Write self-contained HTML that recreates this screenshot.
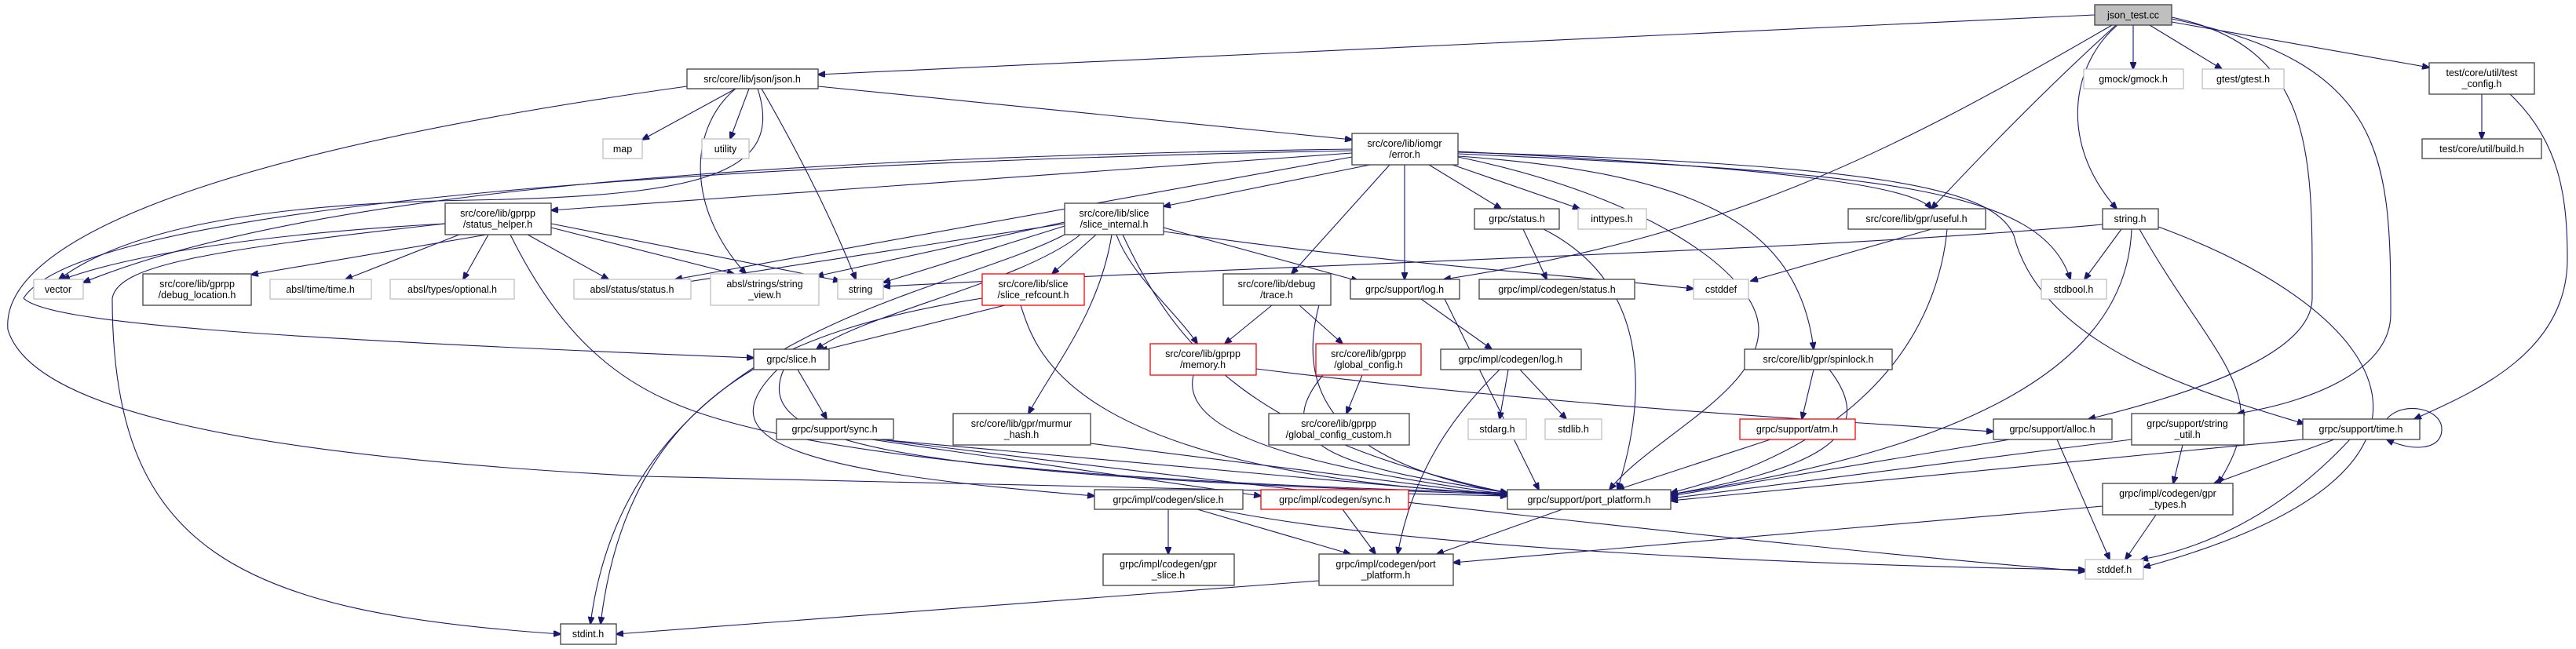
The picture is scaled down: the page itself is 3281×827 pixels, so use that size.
<!DOCTYPE html>
<html><head><meta charset="utf-8"><style>
html,body{margin:0;padding:0;background:#fff;}
svg{display:block;}
text{font-family:"Liberation Sans",sans-serif;font-size:12.5px;fill:#000;text-anchor:middle;}
.e{fill:none;stroke:#191970;stroke-width:1.1;marker-end:url(#a);}
.b{fill:#fff;stroke:#404040;stroke-width:1.3;}
.g{fill:#fff;stroke:#bfbfbf;stroke-width:1.3;}
.r{fill:#fff;stroke:#ff0000;stroke-width:1.3;}
</style></head><body>
<svg width="3281" height="827" viewBox="0 0 3281 827" xmlns="http://www.w3.org/2000/svg">
<defs><marker id="a" markerWidth="10" markerHeight="8" refX="9" refY="4" orient="auto" markerUnits="userSpaceOnUse"><path d="M0,0 L10,4 L0,8 z" fill="#191970" stroke="#191970"/></marker></defs>
<g>
<path class="e" d="M2668,19 L1042,95"/>
<path class="e" d="M2717,32 L2717,88"/>
<path class="e" d="M2738,32 L2830,88"/>
<path class="e" d="M2766,28 L3094,86"/>
<path class="e" d="M2697,32 C2640,80 2620,180 2696,266"/>
<path class="e" d="M2695,32 C2620,100 2540,180 2460,266"/>
<path class="e" d="M2690,32 C2400,200 2200,300 1839,356"/>
<path class="e" d="M2766,22 C2950,60 2945,200 2945,380 C2945,450 2800,500 2660,534"/>
<path class="e" d="M2766,24 C3040,80 3045,200 3045,400 C3045,470 2950,510 2850,527"/>
<path class="e" d="M3161,120 L3161,177"/>
<path class="e" d="M3197,120 C3260,180 3270,250 3270,330 C3270,450 3150,500 3075,534"/>
<path class="e" d="M937,113 L818,178"/>
<path class="e" d="M954,113 L930,177"/>
<path class="e" d="M937,113 C880,160 870,260 950,349"/>
<path class="e" d="M970,113 C1020,200 1060,280 1090,356"/>
<path class="e" d="M965,113 C1000,220 900,250 600,255 C300,260 150,300 75,356"/>
<path class="e" d="M1042,110 L1722,178"/>
<path class="e" d="M875,110 C300,190 0,300 10,420 C40,520 300,580 820,607 L1920,632"/>
<path class="e" d="M1722,195 L702,268"/>
<path class="e" d="M1722,190 C1000,200 400,240 106,360"/>
<path class="e" d="M1722,200 L860,356"/>
<path class="e" d="M1745,210 L1482,263"/>
<path class="e" d="M1722,192 C800,210 100,270 30,380 C60,410 300,430 960,456"/>
<path class="e" d="M1770,210 L1645,349"/>
<path class="e" d="M1789,210 L1789,356"/>
<path class="e" d="M1820,210 L1912,266"/>
<path class="e" d="M1850,210 L2012,266"/>
<path class="e" d="M1857,196 C2400,220 2600,240 2637,356"/>
<path class="e" d="M1857,194 C2400,210 2540,240 2565,300 C2600,440 2800,500 2935,540"/>
<path class="e" d="M1857,200 C2100,250 2240,350 2240,420 C2240,500 2100,560 2050,624"/>
<path class="e" d="M1857,199 C2150,220 2290,280 2310,445"/>
<path class="e" d="M1857,193 C2300,215 2440,240 2460,266"/>
<path class="e" d="M567,285 C300,300 150,330 80,356"/>
<path class="e" d="M620,299 L320,350"/>
<path class="e" d="M585,299 L440,356"/>
<path class="e" d="M622,299 L590,356"/>
<path class="e" d="M672,299 L775,356"/>
<path class="e" d="M702,290 L935,349"/>
<path class="e" d="M702,285 L1070,358"/>
<path class="e" d="M567,285 C250,320 150,340 143,380 C143,700 300,780 714,808"/>
<path class="e" d="M650,299 C700,400 760,470 850,510 C1000,580 1400,615 1920,628"/>
<path class="e" d="M1356,288 L1125,360"/>
<path class="e" d="M1356,285 L870,360"/>
<path class="e" d="M1356,283 L1040,352"/>
<path class="e" d="M1356,299 C1200,380 800,420 752,795"/>
<path class="e" d="M1376,299 C1300,360 1100,400 1040,445"/>
<path class="e" d="M1396,299 L1340,349"/>
<path class="e" d="M1416,299 C1400,400 1340,470 1310,527"/>
<path class="e" d="M1422,299 C1440,350 1500,400 1525,438"/>
<path class="e" d="M1430,299 C1500,450 1600,560 1920,628"/>
<path class="e" d="M1482,290 L1730,358"/>
<path class="e" d="M1482,295 C1800,340 2000,350 2157,368"/>
<path class="e" d="M1280,389 L1045,447"/>
<path class="e" d="M1251,380 C1000,420 800,500 765,795"/>
<path class="e" d="M1300,389 C1320,450 1360,600 1920,630"/>
<path class="e" d="M1016,471 L1053,534"/>
<path class="e" d="M990,471 C900,560 1000,600 1394,632"/>
<path class="e" d="M998,471 C960,560 1100,605 1920,630"/>
<path class="e" d="M1120,560 L1920,632"/>
<path class="e" d="M1110,560 L1606,632"/>
<path class="e" d="M1120,560 C1600,620 2300,700 2656,728"/>
<path class="e" d="M1389,565 L1920,632"/>
<path class="e" d="M1520,478 C1500,560 1700,600 1920,630"/>
<path class="e" d="M1600,470 C2000,520 2400,540 2539,550"/>
<path class="e" d="M1620,389 L1560,438"/>
<path class="e" d="M1655,389 L1710,438"/>
<path class="e" d="M1680,389 C1650,500 1700,590 1920,628"/>
<path class="e" d="M1735,478 L1715,527"/>
<path class="e" d="M1685,478 C1600,580 1750,600 1920,628"/>
<path class="e" d="M1810,381 L1900,445"/>
<path class="e" d="M1840,381 L1960,624"/>
<path class="e" d="M1921,471 L1910,534"/>
<path class="e" d="M1936,471 L1995,534"/>
<path class="e" d="M1910,471 C1850,530 1800,600 1780,706"/>
<path class="e" d="M1940,292 L1970,356"/>
<path class="e" d="M1966,292 C2100,360 2100,500 2060,624"/>
<path class="e" d="M2460,292 L2230,358"/>
<path class="e" d="M2480,292 C2470,400 2400,560 2128,628"/>
<path class="e" d="M2310,471 L2295,534"/>
<path class="e" d="M2330,471 C2400,560 2300,600 2128,630"/>
<path class="e" d="M2255,560 L2060,624"/>
<path class="e" d="M2560,560 L2128,632"/>
<path class="e" d="M2620,560 L2687,713"/>
<path class="e" d="M2715,560 L2128,635"/>
<path class="e" d="M2780,567 L2768,616"/>
<path class="e" d="M2933,560 L2128,638"/>
<path class="e" d="M2973,560 L2820,616"/>
<path class="e" d="M2993,560 C2900,660 2800,700 2727,713"/>
<path class="e" d="M3040,534 C3060,510 3110,520 3110,547 C3110,575 3070,575 3040,560"/>
<path class="e" d="M2702,292 L2655,356"/>
<path class="e" d="M2715,292 C2710,420 2600,560 2128,630"/>
<path class="e" d="M2725,292 C2820,460 2900,500 2825,616"/>
<path class="e" d="M2749,289 C3050,400 3180,600 2730,723"/>
<path class="e" d="M2678,286 C2300,320 1800,330 1125,365"/>
<path class="e" d="M2678,645 L1851,717"/>
<path class="e" d="M2746,656 L2707,713"/>
<path class="e" d="M1990,649 L1830,706"/>
<path class="e" d="M1488,649 L1488,706"/>
<path class="e" d="M1525,649 L1720,706"/>
<path class="e" d="M1550,649 C1800,700 2300,720 2656,726"/>
<path class="e" d="M1710,649 L1752,706"/>
<path class="e" d="M1680,740 L785,808"/>
</g>
<g>
<rect x="2668" y="6" width="98" height="26" fill="#bfbfbf" stroke="#404040" stroke-width="1.3"/><text x="2717" y="23.5">json_test.cc</text>
<rect class="b" x="875" y="88" width="167" height="25"/><text x="958" y="105">src/core/lib/json/json.h</text>
<rect class="g" x="2654" y="88" width="127" height="25"/><text x="2717" y="105">gmock/gmock.h</text>
<rect class="g" x="2805" y="88" width="104" height="25"/><text x="2857" y="105">gtest/gtest.h</text>
<rect class="b" x="3094" y="80" width="134" height="40"/><text x="3161" y="97">test/core/util/test</text><text x="3161" y="111">_config.h</text>
<rect class="b" x="3085" y="177" width="152" height="25"/><text x="3161" y="194">test/core/util/build.h</text>
<rect class="g" x="768" y="177" width="50" height="25"/><text x="793" y="194">map</text>
<rect class="g" x="894" y="177" width="60" height="25"/><text x="924" y="194">utility</text>
<rect class="b" x="1722" y="170" width="135" height="40"/><text x="1789" y="187">src/core/lib/iomgr</text><text x="1789" y="201">/error.h</text>
<rect class="b" x="567" y="259" width="135" height="40"/><text x="634" y="276">src/core/lib/gprpp</text><text x="634" y="290">/status_helper.h</text>
<rect class="b" x="1356" y="259" width="126" height="40"/><text x="1419" y="276">src/core/lib/slice</text><text x="1419" y="290">/slice_internal.h</text>
<rect class="b" x="1878" y="266" width="108" height="26"/><text x="1932" y="283">grpc/status.h</text>
<rect class="g" x="2010" y="266" width="87" height="26"/><text x="2053" y="283">inttypes.h</text>
<rect class="b" x="2354" y="266" width="175" height="26"/><text x="2441" y="283">src/core/lib/gpr/useful.h</text>
<rect class="b" x="2678" y="266" width="71" height="26"/><text x="2713" y="283">string.h</text>
<rect class="g" x="43" y="356" width="63" height="25"/><text x="74" y="373">vector</text>
<rect class="b" x="182" y="349" width="138" height="40"/><text x="251" y="366">src/core/lib/gprpp</text><text x="251" y="380">/debug_location.h</text>
<rect class="g" x="344" y="356" width="129" height="25"/><text x="408" y="373">absl/time/time.h</text>
<rect class="g" x="497" y="356" width="158" height="25"/><text x="576" y="373">absl/types/optional.h</text>
<rect class="g" x="731" y="356" width="149" height="25"/><text x="805" y="373">absl/status/status.h</text>
<rect class="g" x="905" y="349" width="138" height="40"/><text x="974" y="366">absl/strings/string</text><text x="974" y="380">_view.h</text>
<rect class="g" x="1067" y="356" width="58" height="25"/><text x="1096" y="373">string</text>
<rect class="r" x="1251" y="349" width="130" height="40"/><text x="1316" y="366">src/core/lib/slice</text><text x="1316" y="380">/slice_refcount.h</text>
<rect class="b" x="1558" y="349" width="137" height="40"/><text x="1626" y="366">src/core/lib/debug</text><text x="1626" y="380">/trace.h</text>
<rect class="b" x="1720" y="356" width="139" height="25"/><text x="1789" y="373">grpc/support/log.h</text>
<rect class="b" x="1884" y="356" width="198" height="25"/><text x="1983" y="373">grpc/impl/codegen/status.h</text>
<rect class="g" x="2157" y="356" width="70" height="25"/><text x="2192" y="373">cstddef</text>
<rect class="g" x="2600" y="356" width="83" height="25"/><text x="2641" y="373">stdbool.h</text>
<rect class="b" x="960" y="445" width="96" height="26"/><text x="1008" y="462">grpc/slice.h</text>
<rect class="r" x="1465" y="438" width="135" height="40"/><text x="1532" y="455">src/core/lib/gprpp</text><text x="1532" y="469">/memory.h</text>
<rect class="r" x="1676" y="438" width="134" height="40"/><text x="1743" y="455">src/core/lib/gprpp</text><text x="1743" y="469">/global_config.h</text>
<rect class="b" x="1835" y="445" width="179" height="26"/><text x="1924" y="462">grpc/impl/codegen/log.h</text>
<rect class="b" x="2222" y="445" width="188" height="26"/><text x="2316" y="462">src/core/lib/gpr/spinlock.h</text>
<rect class="b" x="989" y="534" width="149" height="26"/><text x="1063" y="551">grpc/support/sync.h</text>
<rect class="b" x="1214" y="527" width="175" height="40"/><text x="1301" y="544">src/core/lib/gpr/murmur</text><text x="1301" y="558">_hash.h</text>
<rect class="b" x="1616" y="527" width="179" height="40"/><text x="1705" y="544">src/core/lib/gprpp</text><text x="1705" y="558">/global_config_custom.h</text>
<rect class="g" x="1870" y="534" width="74" height="26"/><text x="1907" y="551">stdarg.h</text>
<rect class="g" x="1968" y="534" width="72" height="26"/><text x="2004" y="551">stdlib.h</text>
<rect class="r" x="2216" y="534" width="147" height="26"/><text x="2289" y="551">grpc/support/atm.h</text>
<rect class="b" x="2539" y="534" width="151" height="26"/><text x="2614" y="551">grpc/support/alloc.h</text>
<rect class="b" x="2715" y="527" width="143" height="40"/><text x="2786" y="544">grpc/support/string</text><text x="2786" y="558">_util.h</text>
<rect class="b" x="2933" y="534" width="149" height="26"/><text x="3007" y="551">grpc/support/time.h</text>
<rect class="b" x="1394" y="624" width="189" height="25"/><text x="1488" y="641">grpc/impl/codegen/slice.h</text>
<rect class="r" x="1606" y="624" width="188" height="25"/><text x="1700" y="641">grpc/impl/codegen/sync.h</text>
<rect class="b" x="1920" y="624" width="208" height="25"/><text x="2024" y="641">grpc/support/port_platform.h</text>
<rect class="b" x="2678" y="616" width="166" height="40"/><text x="2761" y="633">grpc/impl/codegen/gpr</text><text x="2761" y="647">_types.h</text>
<rect class="b" x="1680" y="706" width="171" height="40"/><text x="1765" y="723">grpc/impl/codegen/port</text><text x="1765" y="737">_platform.h</text>
<rect class="b" x="1405" y="706" width="167" height="40"/><text x="1488" y="723">grpc/impl/codegen/gpr</text><text x="1488" y="737">_slice.h</text>
<rect class="g" x="2656" y="713" width="74" height="25"/><text x="2693" y="730">stddef.h</text>
<rect class="b" x="714" y="795" width="71" height="26"/><text x="749" y="812">stdint.h</text>
</g>
</svg>
</body></html>
